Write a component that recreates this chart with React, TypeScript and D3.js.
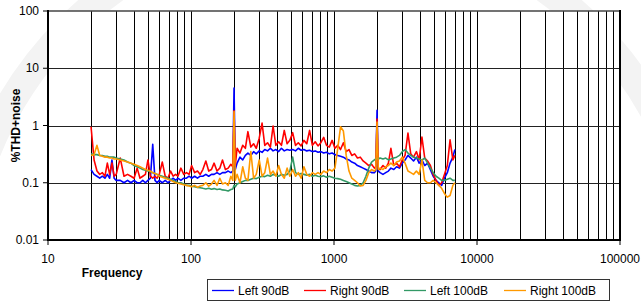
import React from "react";
import * as d3 from "d3";

// frequency grid (Hz) shared by all four measurements
const FREQ = [
  20, 21, 22, 23, 24, 25, 26, 27, 28, 29, 30,
  32, 34, 36, 38, 40, 42, 44, 46, 48, 50,
  52, 54, 56, 58, 60, 63, 66, 69, 72, 75,
  78, 81, 85, 89, 93, 97, 101, 106, 111, 116,
  121, 127, 133, 139, 145, 152, 159, 166, 174, 182, 190, 196,
  200,
  204, 210, 220, 230, 240, 250, 262, 274, 286, 300,
  314, 328, 343, 359, 375, 392, 410, 429, 449, 470, 491,
  514, 538, 563, 589, 616, 645, 675, 706, 739, 773, 809, 847, 886, 927, 970,
  1015, 1062, 1111, 1163, 1217, 1273, 1332, 1394, 1459, 1527, 1598, 1672, 1750, 1831, 1916, 1960,
  2000,
  2040, 2100, 2200, 2300, 2400, 2500, 2620, 2740, 2870, 3000,
  3140, 3290, 3440, 3600, 3770, 3940, 4120, 4310, 4510, 4720,
  4940, 5170, 5410, 5660, 5920, 6200, 6480, 6780, 7000,
];

const LEFT_90 = [
  0.17, 0.14, 0.13, 0.12, 0.13, 0.12, 0.14, 0.12, 0.25, 0.12, 0.11,
  0.11, 0.10, 0.11, 0.10, 0.11, 0.10, 0.10, 0.11, 0.10, 0.11,
  0.12, 0.47, 0.11, 0.10, 0.11, 0.10, 0.11, 0.10, 0.11, 0.12,
  0.11, 0.12, 0.11, 0.12, 0.12, 0.13, 0.12, 0.13, 0.12, 0.13,
  0.13, 0.14, 0.13, 0.14, 0.14, 0.15, 0.14, 0.15, 0.15, 0.16, 0.15, 0.16,
  4.5,
  0.17, 0.22, 0.28, 0.25, 0.30, 0.33, 0.30, 0.35, 0.32, 0.36,
  0.34, 0.38, 0.36, 0.40, 0.36, 0.38, 0.35, 0.40, 0.36, 0.38, 0.37,
  0.38, 0.36, 0.40, 0.37, 0.38, 0.36, 0.37, 0.35, 0.36, 0.34, 0.35, 0.33, 0.34, 0.32, 0.33,
  0.31, 0.30, 0.29, 0.28, 0.26, 0.25, 0.23, 0.22, 0.20, 0.19, 0.18, 0.17, 0.16, 0.15, 0.15, 0.16,
  1.85,
  0.16, 0.15, 0.14, 0.15, 0.16, 0.18, 0.17, 0.19, 0.18, 0.22,
  0.25, 0.30, 0.27, 0.24, 0.28, 0.22, 0.25, 0.20, 0.22, 0.17,
  0.13, 0.11, 0.10, 0.09, 0.12, 0.15, 0.22, 0.28, 0.38,
];

const RIGHT_90 = [
  0.95, 0.25, 0.16, 0.14, 0.15, 0.13, 0.22, 0.14, 0.22, 0.13, 0.14,
  0.27, 0.13, 0.14, 0.13, 0.12, 0.18, 0.12, 0.13, 0.14, 0.25,
  0.13, 0.12, 0.13, 0.12, 0.14, 0.23, 0.13, 0.12, 0.16, 0.13,
  0.14, 0.13, 0.18, 0.14, 0.15, 0.14, 0.20, 0.15, 0.16, 0.14,
  0.17, 0.24, 0.16, 0.17, 0.22, 0.16, 0.18, 0.25, 0.17, 0.18, 0.21, 0.19,
  1.8,
  0.20, 0.40, 0.33, 0.45, 0.40, 0.78, 0.42, 0.48, 0.40, 0.60,
  1.10, 0.45, 0.50, 0.42, 0.98, 0.45, 0.52, 0.45, 0.82, 0.48, 0.55,
  0.75, 0.45, 0.50, 0.44, 0.55, 0.48, 0.82, 0.45, 0.52, 0.44, 0.50, 0.62, 0.45, 0.42, 0.55,
  0.40, 0.45, 0.38, 0.50, 0.35, 0.38, 0.30, 0.32, 0.27, 0.28, 0.24, 0.22, 0.20, 0.21, 0.18, 0.19,
  1.3,
  0.18, 0.17, 0.20, 0.18, 0.22, 0.40, 0.20, 0.22, 0.19, 0.25,
  0.30, 0.74, 0.32, 0.28, 0.35, 0.25, 0.63, 0.27, 0.24, 0.20,
  0.14, 0.11, 0.09, 0.10, 0.14, 0.20, 0.56, 0.25, 0.30,
];

const LEFT_100 = [
  0.32, 0.31, 0.31, 0.30, 0.30, 0.29, 0.29, 0.28, 0.28, 0.28, 0.27,
  0.26, 0.25, 0.23, 0.22, 0.20, 0.19, 0.18, 0.17, 0.165, 0.16,
  0.155, 0.15, 0.145, 0.14, 0.135, 0.13, 0.125, 0.12, 0.115, 0.11,
  0.105, 0.10, 0.10, 0.095, 0.09, 0.09, 0.087, 0.085, 0.083, 0.082,
  0.08, 0.078, 0.08, 0.077, 0.079, 0.076, 0.078, 0.075, 0.074, 0.072, 0.076, 0.078,
  0.09,
  0.085, 0.095, 0.10, 0.105, 0.11, 0.11, 0.115, 0.12, 0.118, 0.125,
  0.13, 0.128, 0.135, 0.13, 0.14, 0.135, 0.13, 0.14, 0.135, 0.14, 0.16,
  0.28, 0.15, 0.14, 0.145, 0.14, 0.135, 0.14, 0.13, 0.135, 0.13, 0.128, 0.132, 0.125, 0.13, 0.125,
  0.12, 0.118, 0.115, 0.11, 0.105, 0.10, 0.095, 0.09, 0.088, 0.09, 0.10, 0.13, 0.18, 0.23, 0.25, 0.26,
  0.27,
  0.26, 0.27, 0.26, 0.27, 0.25, 0.26, 0.27, 0.28, 0.30, 0.35,
  0.38, 0.33, 0.30, 0.28, 0.27, 0.26, 0.25, 0.27, 0.22, 0.18,
  0.15, 0.13, 0.12, 0.11, 0.11, 0.115, 0.12, 0.11, 0.11,
];

const RIGHT_100 = [
  0.30, 0.31, 0.45, 0.30, 0.29, 0.28, 0.28, 0.27, 0.27, 0.26, 0.26,
  0.25, 0.24, 0.23, 0.22, 0.21, 0.20, 0.19, 0.18, 0.17, 0.165,
  0.16, 0.15, 0.145, 0.14, 0.13, 0.125, 0.12, 0.115, 0.11, 0.105,
  0.10, 0.098, 0.095, 0.092, 0.09, 0.088, 0.085, 0.09, 0.083, 0.088,
  0.09, 0.10, 0.087, 0.095, 0.11, 0.09, 0.12, 0.095, 0.10, 0.09, 0.13, 0.11,
  1.75,
  0.11, 0.14, 0.10, 0.19, 0.12, 0.11, 0.35, 0.12, 0.14, 0.25,
  0.13, 0.15, 0.27, 0.14, 0.16, 0.13, 0.20, 0.14, 0.12, 0.18, 0.13,
  0.17, 0.13, 0.15, 0.12, 0.19, 0.14, 0.13, 0.15, 0.14, 0.15, 0.14, 0.16, 0.15, 0.17, 0.16,
  0.18, 0.40, 0.95, 0.80, 0.30, 0.16, 0.12, 0.11, 0.10, 0.088, 0.09, 0.11, 0.15, 0.17, 0.16, 0.17,
  1.15,
  0.17, 0.18, 0.17, 0.19, 0.20, 0.22, 0.20, 0.23, 0.24, 0.28,
  0.22, 0.16, 0.15, 0.14, 0.16, 0.14, 0.25, 0.11, 0.10, 0.10,
  0.11, 0.10, 0.09, 0.08, 0.065, 0.056, 0.06, 0.09, 0.10,
];

const SERIES_NAMES = ["Left 90dB", "Right 90dB", "Left 100dB", "Right 100dB"];
const SERIES_VALUES = [LEFT_90, RIGHT_90, LEFT_100, RIGHT_100];
const SERIES_COLORS = ["#0000ff", "#ff0000", "#339966", "#ff9900"];

const X_TICKS = [10, 100, 1000, 10000, 100000];
const X_TICK_LABELS = ["10", "100", "1000", "10000", "100000"];
const Y_TICKS = [0.01, 0.1, 1, 10, 100];
const Y_TICK_LABELS = ["0.01", "0.1", "1", "10", "100"];

const W = 641;
const H = 303;
const FONT = "'Liberation Sans', Arial, sans-serif";

export default function App() {
  const left = 48;
  const right = 620;
  const top = 11;
  const bottom = 240;

  const x = d3.scaleLog().domain([10, 100000]).range([left, right]);
  const y = d3.scaleLog().domain([0.01, 100]).range([bottom, top]);

  const line = d3
    .line<[number, number]>()
    .x((d) => x(d[0]))
    .y((d) => y(d[1]));

  // minor + major vertical grid (2..9 of each decade)
  const vGrid = x.ticks().filter((t) => t > 10 && t < 100000);
  const hGrid = Y_TICKS.filter((t) => t > 0.01 && t < 100);

  const legendItems = [
    { x: 212, tx: 238 },
    { x: 304, tx: 330 },
    { x: 404, tx: 430 },
    { x: 504, tx: 530 },
  ];

  return (
    <svg
      width={W}
      height={H}
      style={{ position: "fixed", left: 0, top: 0, background: "#fff" }}
      fontFamily={FONT}
    >
      {/* faint watermark ring */}
      <circle cx={330} cy={290} r={370} fill="none" stroke="#f3f3f3" strokeWidth={28} />
      <rect x={left} y={top} width={right - left} height={bottom - top} fill="#fff" />

      <g>
        {vGrid.map((t) => (
          <line
            key={"v" + t}
            x1={Math.round(x(t)) + 0.5}
            x2={Math.round(x(t)) + 0.5}
            y1={top}
            y2={bottom}
            stroke="#000"
            strokeWidth={1}
          />
        ))}
        {hGrid.map((t) => (
          <line
            key={"h" + t}
            x1={left}
            x2={right}
            y1={Math.round(y(t)) + 0.5}
            y2={Math.round(y(t)) + 0.5}
            stroke="#222"
            strokeWidth={1}
          />
        ))}
      </g>

      <g fill="none" strokeWidth={1.6} strokeLinejoin="round">
        {SERIES_VALUES.map((vals, i) => (
          <path
            key={SERIES_NAMES[i]}
            d={line(FREQ.map((f, j) => [f, vals[j]] as [number, number])) || ""}
            stroke={SERIES_COLORS[i]}
          />
        ))}
      </g>

      {/* frame */}
      <line x1={left} x2={right} y1={top} y2={top} stroke="#444" strokeWidth={1.5} />
      <line x1={left} x2={left} y1={top - 1} y2={bottom + 1} stroke="#000" strokeWidth={2} />
      <line x1={right} x2={right} y1={top - 1} y2={bottom + 1} stroke="#000" strokeWidth={2} />
      <line x1={left} x2={right} y1={bottom} y2={bottom} stroke="#000" strokeWidth={2} />

      {/* y axis ticks */}
      {Y_TICKS.map((t, i) => (
        <g key={"yt" + t}>
          <line x1={left - 5} x2={left} y1={y(t)} y2={y(t)} stroke="#000" strokeWidth={1} />
          <text x={39} y={y(t) + 4} textAnchor="end" fontSize={12} fill="#000">
            {Y_TICK_LABELS[i]}
          </text>
        </g>
      ))}

      {/* x axis ticks */}
      {X_TICKS.map((t, i) => (
        <g key={"xt" + t}>
          <line x1={x(t)} x2={x(t)} y1={bottom} y2={bottom + 5} stroke="#000" strokeWidth={1} />
          <text x={x(t)} y={263} textAnchor="middle" fontSize={12} fill="#000">
            {X_TICK_LABELS[i]}
          </text>
        </g>
      ))}

      <text x={112} y={277} textAnchor="middle" fontSize={12} fontWeight="bold" fill="#000">
        Frequency
      </text>
      <text
        transform={`translate(20,${(top + bottom) / 2}) rotate(-90)`}
        textAnchor="middle"
        fontSize={12}
        fontWeight="bold"
        fill="#000"
      >
        %THD+noise
      </text>

      {/* legend */}
      <rect x={207.5} y={279.5} width={402} height={21} fill="#fff" stroke="#333" strokeWidth={1} />
      {SERIES_NAMES.map((name, i) => (
        <g key={"lg" + name}>
          <line
            x1={legendItems[i].x}
            x2={legendItems[i].x + 22}
            y1={290.5}
            y2={290.5}
            stroke={SERIES_COLORS[i]}
            strokeWidth={1.3}
          />
          <text x={legendItems[i].tx} y={295} fontSize={12} fill="#000">
            {name}
          </text>
        </g>
      ))}
    </svg>
  );
}
